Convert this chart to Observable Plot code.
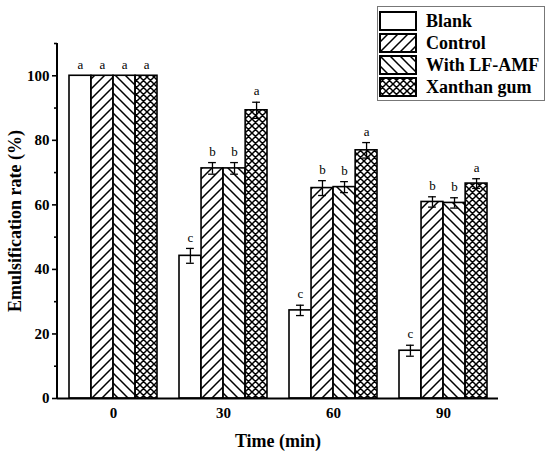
<!DOCTYPE html>
<html><head><meta charset="utf-8">
<script src="https://cdn.jsdelivr.net/npm/d3@7"></script>
<script src="https://cdn.jsdelivr.net/npm/@observablehq/plot@0.6"></script>
<style>
body{margin:0;background:#fff;}
#wrap{position:relative;width:550px;height:457px;font-family:"Liberation Serif","Times New Roman",serif;}
#legend{position:absolute;left:377px;top:6px;width:168px;height:95px;border:1px solid #777;background:#fff;box-sizing:border-box;}
.row{position:absolute;left:1px;height:20px;display:flex;align-items:center;}
.row svg{display:block}
.row span{margin-left:9px;font-weight:bold;font-size:18px;line-height:20px;}
svg text{font-family:"Liberation Serif","Times New Roman",serif;}
</style></head><body><div id="wrap"></div>
<script>
const times = ["0", "30", "60", "90"];
const series = ["Blank", "Control", "With LF-AMF", "Xanthan gum"];
const blankVals = [100, 44.2, 27.3, 14.8];
const controlVals = [100, 71.3, 65.2, 60.9];
const lfVals = [100, 71.3, 65.5, 60.6];
const xanthanVals = [100, 89.3, 76.9, 66.6];
const blankErr = [0, 2.3, 1.6, 1.7];
const controlErr = [0, 1.8, 2.3, 1.6];
const lfErr = [0, 1.8, 1.7, 1.6];
const xanthanErr = [0, 2.5, 2.4, 1.5];
const blankLetters = ["a", "c", "c", "c"];
const controlLetters = ["a", "b", "b", "b"];
const lfLetters = ["a", "b", "b", "b"];
const xanthanLetters = ["a", "a", "a", "a"];
const majorTicks = [0, 20, 40, 60, 80, 100];
const minorTicks = [10, 30, 50, 70, 90, 110];

const FONT = "Liberation Serif";
const vals = [blankVals, controlVals, lfVals, xanthanVals];
const errs = [blankErr, controlErr, lfErr, xanthanErr];
const lets = [blankLetters, controlLetters, lfLetters, xanthanLetters];
const fills = ["white", "url(#patFwd)", "url(#patBack)", "url(#patCross)"];

const data = times.flatMap((t, ti) => series.map((s, si) => ({
  time: t, series: s, si, value: vals[si][ti], err: errs[si][ti], letter: lets[si][ti]
})));

const W = 550, H = 457, mL = 57, mR = 52, mT = 43, mB = 59;
const step = (W - mL - mR) / (times.length - 0.2 + 2 * 0.1);
const bw = step * 0.8;
const sub = bw / series.length;

const marks = [];
series.forEach((s, i) => {
  const d = data.filter(r => r.si === i);
  const de = d.filter(r => r.err > 0);
  const c = (i + 0.5) * sub;
  marks.push(Plot.barY(d, {x: "time", y: "value", fill: fills[i], stroke: "black", strokeWidth: 1.6,
    insetLeft: i * sub, insetRight: (series.length - 1 - i) * sub}));
  marks.push(Plot.ruleX(de, {x: "time", y1: r => r.value - r.err, y2: r => r.value + r.err, dx: c - bw / 2, stroke: "black", strokeWidth: 1.3}));
  marks.push(Plot.tickY(de, {x: "time", y: r => r.value + r.err, insetLeft: c - 4, insetRight: bw - c - 4, stroke: "black", strokeWidth: 1.3}));
  marks.push(Plot.tickY(de, {x: "time", y: r => r.value - r.err, insetLeft: c - 4, insetRight: bw - c - 4, stroke: "black", strokeWidth: 1.3}));
  marks.push(Plot.text(d, {x: "time", y: r => r.value + r.err, text: "letter", dx: c - bw / 2, dy: -11, fontSize: 13, fontFamily: FONT, fill: "black"}));
});

const plot = Plot.plot({
  width: W, height: H,
  marginLeft: mL, marginRight: mR, marginTop: mT, marginBottom: mB,
  style: {fontFamily: FONT, background: "white", color: "black"},
  x: {type: "band", domain: times, paddingInner: 0.2, paddingOuter: 0.1},
  y: {domain: [0, 110]},
  marks: [
    ...marks,
    Plot.axisY({ticks: majorTicks, tickSize: 5, tickPadding: 3, fontSize: 15, fontWeight: "bold", fontFamily: FONT, label: null, strokeWidth: 1.6}),
    Plot.axisY({ticks: minorTicks, tickSize: 3, tickFormat: () => "", label: null, strokeWidth: 1.6}),
    Plot.axisX({tickSize: 0, tickPadding: 9, fontSize: 15, fontWeight: "bold", fontFamily: FONT, label: null}),
    Plot.ruleY([0], {stroke: "black", strokeWidth: 2}),
    (index, scales, values, dims) => {
      const g = d3.create("svg:g");
      g.append("line").attr("x1", dims.marginLeft).attr("x2", dims.marginLeft)
        .attr("y1", scales.y(110)).attr("y2", scales.y(0))
        .attr("stroke", "black").attr("stroke-width", 2);
      return g.node();
    },
    Plot.text(["Emulsification rate (%)"], {frameAnchor: "left", textAnchor: "middle", lineAnchor: "middle", rotate: -90, dx: -42, fontSize: 18, fontWeight: "bold", fontFamily: FONT, fill: "black"}),
    Plot.text(["Time (min)"], {frameAnchor: "bottom", textAnchor: "middle", lineAnchor: "middle", dy: 43, fontSize: 18, fontWeight: "bold", fontFamily: FONT, fill: "black"})
  ]
});

const svg = d3.select(plot);
const defs = svg.insert("defs", ":first-child");
function pat(id, size, d) {
  const p = defs.append("pattern").attr("id", id).attr("patternUnits", "userSpaceOnUse")
    .attr("width", size).attr("height", size);
  p.append("rect").attr("width", size).attr("height", size).attr("fill", "white");
  p.append("path").attr("d", d).attr("stroke", "black").attr("stroke-width", 1.5).attr("fill", "none");
}
pat("patFwd", 10, "M-5,5 L5,-5 M0,10 L10,0 M5,15 L15,5");
pat("patBack", 10, "M-5,5 L5,15 M0,0 L10,10 M5,-5 L15,5");
pat("patCross", 7, "M0,0 L7,7 M0,7 L7,0 M-3.5,3.5 L3.5,10.5 M3.5,-3.5 L10.5,3.5 M-3.5,3.5 L3.5,-3.5 M3.5,10.5 L10.5,3.5");

const wrap = document.getElementById("wrap");
wrap.appendChild(plot);

const legend = document.createElement("div");
legend.id = "legend";
const rowTops = [4, 26, 48, 70];
series.forEach((s, i) => {
  const row = document.createElement("div");
  row.className = "row";
  row.style.top = rowTops[i] + "px";
  row.innerHTML = `<svg width="38" height="20"><rect x="1" y="1" width="36" height="18" fill="${fills[i]}" stroke="black" stroke-width="2"/></svg><span>${s}</span>`;
  legend.appendChild(row);
});
wrap.appendChild(legend);
</script>
</body></html>
